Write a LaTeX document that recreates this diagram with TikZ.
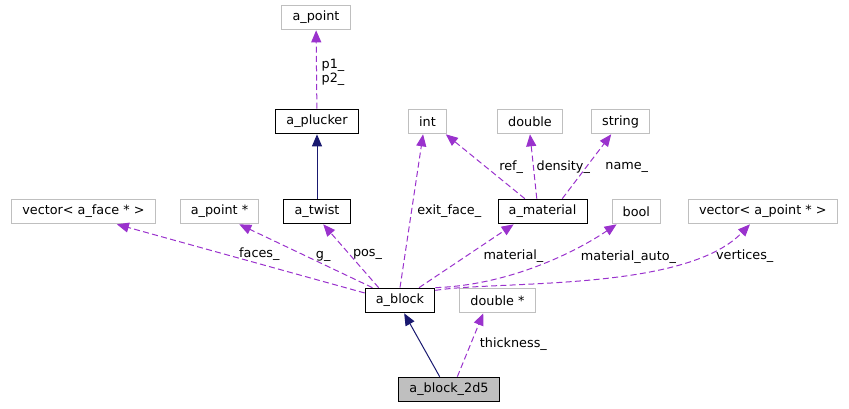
\documentclass[tikz,border=0pt]{standalone}
\usepackage{fontspec}
\setmainfont{DejaVu Sans}
\usepackage{xcolor}
\usepackage{tikz}
\usetikzlibrary{arrows.meta, positioning}

\definecolor{memberpurple}{HTML}{9A32CD}
\definecolor{basenavy}{HTML}{191970}
\definecolor{plaingray}{HTML}{BFBFBF}
\newcommand{\dxfont}{\fontsize{9.6}{10.5}\selectfont}

\begin{document}
\begin{tikzpicture}[x=0.75pt, y=0.75pt,
  box/.style={draw=#1, line width=0.75pt, minimum height=18.5pt, inner xsep=8pt, inner ysep=0pt, font=\dxfont},
  box/.default=black,
  mem/.style={-{Triangle[length=9pt, width=7.5pt]}, memberpurple, line width=0.75pt, dash pattern=on 4.5pt off 2.5pt},
  inh/.style={-{Triangle[length=9pt, width=7.5pt]}, basenavy, line width=0.75pt},
  lbl/.style={font=\dxfont, inner sep=2pt, text=black},
]
  \useasboundingbox (0,0) rectangle (849,-409);

  \node[box=plaingray] (point) at (316,-17.5) {a\_point};
  \node[box] (plucker) at (317,-121.5) {a\_plucker};
  \node[box=plaingray] (int) at (427.5,-121.5) {int};
  \node[box=plaingray, right=37.5pt of int] (double) {double};
  \node[box=plaingray, right=21pt of double] (string) {string};

  \node[box] (twist) at (317,-211.5) {a\_twist};
  \node[box=plaingray, left=18pt of twist] (pointptr) {a\_point *};
  \node[box=plaingray, left=18pt of pointptr] (faces) {vector< a\_face * >};
  \node[box] (material) at (542.5,-211.5) {a\_material};
  \node[box=plaingray, right=18pt of material] (bool) {bool};
  \node[box=plaingray, right=20pt of bool] (vertices) {vector< a\_point * >};

  \node[box] (block) at (400,-300.5) {a\_block};
  \node[box=plaingray, right=18pt of block] (doubleptr) {double *};
  \node[box, fill=plaingray] (block2d5) at (449,-389.5) {a\_block\_2d5};

  \draw[mem] (plucker) -- node[lbl, pos=.47, right=1.5pt, align=left] {p1\_\\p2\_} (point);
  \draw[inh] (twist) -- (plucker);
  \draw[mem] (block.168) -- node[lbl, pos=.425, above] {faces\_} (faces.339);
  \draw[mem] (block.155) -- node[lbl, pos=.37, above] {g\_} (pointptr.327);
  \draw[mem] (block.149) -- node[lbl, pos=.52, right=0pt] {pos\_} (twist.296);
  \draw[mem] (block.north) -- node[lbl, pos=.5, right=2pt] {exit\_face\_} (int.251);
  \draw[mem] (block.34) -- node[lbl, pos=.5, right=10.5pt] {material\_} (material.204);
  \draw[mem] (block.20) .. controls +(2:76) and +(214:47) .. node[lbl, pos=.72, below right] {material\_auto\_} (bool.213);
  \draw[mem] (block.16) .. controls +(9:64) and +(226:94) .. node[lbl, pos=.8, right=11pt] {vertices\_} (vertices.225);
  \draw[mem] (material.144) -- node[lbl, pos=.49, right=7.5pt] {ref\_} (int.325);
  \draw[mem] (material.114) -- node[lbl, pos=.49, right] {density\_} (double.south);
  \draw[mem] (material.33) -- node[lbl, pos=.49, right=12pt] {name\_} (string.234);
  \draw[inh] (block2d5.126) -- (block.288);
  \draw[mem] (block2d5.57) -- node[lbl, pos=.52, right=4.5pt] {thickness\_} (doubleptr.222);
\end{tikzpicture}
\end{document}
